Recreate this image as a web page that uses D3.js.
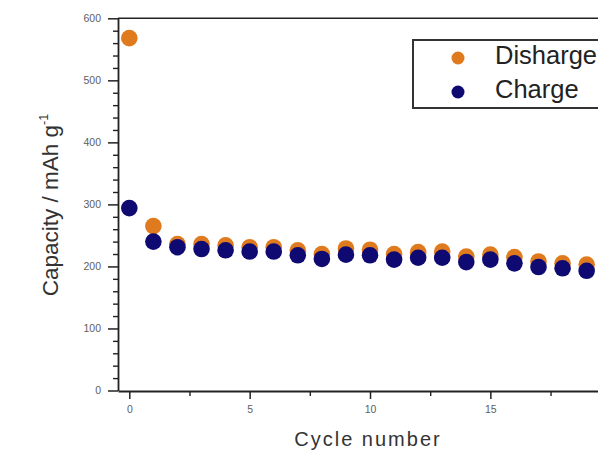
<!DOCTYPE html>
<html><head><meta charset="utf-8">
<script src="https://cdn.jsdelivr.net/npm/d3@7"></script>
<style>body{margin:0;background:#fff}svg{display:block}</style>
</head><body>
<svg id="c" width="598" height="450"></svg>
<script>
const cycles = [0,1,2,3,4,5,6,7,8,9,10,11,12,13,14,15,16,17,18,19];
const discharge = [568,265,236,236,234,231,231,226,220,229,227,220,223,224,216,219,215,208,205,203];
const charge = [294,240,231,228,226,224,224,218,212,219,218,211,214,214,207,211,205,199,197,193];
const yTicks = [0,100,200,300,400,500,600];
const xTicks = [0,5,10,15];
const seriesNames = ["Disharge","Charge"];
const colors = ["#E07A1F","#0E0A72"];

const svg = d3.select("#c");
const x = d3.scaleLinear().domain([-0.47, 20.5]).range([118, 118 + 20.97*24.07]);
const y = d3.scaleLinear().domain([0, 600]).range([390.5, 18.3]);
const font = "Liberation Sans, Arial, sans-serif";

// frame: top line
svg.append("line").attr("x1",118).attr("x2",640).attr("y1",y(600)).attr("y2",y(600))
  .attr("stroke","#222").attr("stroke-width",1.6);

// y axis minor ticks
const yMinor = d3.range(0, 601, 20).filter(v => v % 100 !== 0);
svg.append("g").attr("transform","translate(118,0)")
  .call(d3.axisLeft(y).tickValues(yMinor).tickSize(5).tickFormat(""))
  .call(g => g.select(".domain").remove())
  .call(g => g.selectAll("line").attr("stroke","#222").attr("stroke-width",1.4));
const ya = svg.append("g").attr("transform","translate(118,0)")
  .call(d3.axisLeft(y).tickValues(yTicks).tickSize(10).tickPadding(7).tickSizeOuter(0));
ya.select(".domain").attr("stroke","#222").attr("stroke-width",1.8);
ya.selectAll("line").attr("stroke","#222").attr("stroke-width",1.5);
ya.selectAll("text").attr("fill","#606060").attr("font-family",font).attr("font-size",10.5);

// x axis
const xMinor = [2.5,7.5,12.5,17.5];
svg.append("g").attr("transform","translate(0,391)")
  .call(d3.axisBottom(x).tickValues(xMinor).tickSize(5).tickFormat(""))
  .call(g => g.select(".domain").remove())
  .call(g => g.selectAll("line").attr("stroke","#222").attr("stroke-width",1.4));
const xa = svg.append("g").attr("transform","translate(0,391)")
  .call(d3.axisBottom(x).tickValues(xTicks).tickSize(8).tickPadding(7).tickSizeOuter(0));
xa.select(".domain").attr("stroke","#222").attr("stroke-width",1.8);
xa.selectAll("line").attr("stroke","#222").attr("stroke-width",1.5);
xa.selectAll("text").attr("fill","#606060").attr("font-family",font).attr("font-size",10.5);

// axis titles
svg.append("text").attr("x",368).attr("y",446).attr("text-anchor","middle")
  .attr("font-family",font).attr("font-size",20)
  .attr("letter-spacing",2).attr("fill","#333").text("Cycle number");
const yt = svg.append("text").attr("transform","translate(58,205) rotate(-90)").attr("text-anchor","middle")
  .attr("font-family",font).attr("font-size",22.5).attr("fill","#333");
yt.append("tspan").text("Capacity / mAh g");
yt.append("tspan").attr("font-size",12.5).attr("dy",-10).text("-1");

// points
const data = [discharge, charge];
data.forEach((vals,i) => {
  svg.append("g").selectAll("circle").data(cycles).join("circle")
    .attr("cx", d => x(d)).attr("cy", (d,j) => y(vals[j])).attr("r", 8.3)
    .attr("fill", colors[i]);
});

// legend
svg.append("rect").attr("x",413).attr("y",40).attr("width",200).attr("height",68)
  .attr("fill","#fff").attr("stroke","#333").attr("stroke-width",2);
seriesNames.forEach((n,i) => {
  svg.append("circle").attr("cx",458).attr("cy",58+i*34).attr("r",6.5).attr("fill",colors[i]);
  svg.append("text").attr("x",495).attr("y",64+i*34)
    .attr("font-family",font).attr("font-size",25.5).attr("fill","#222").text(n);
});
</script>
</body></html>
